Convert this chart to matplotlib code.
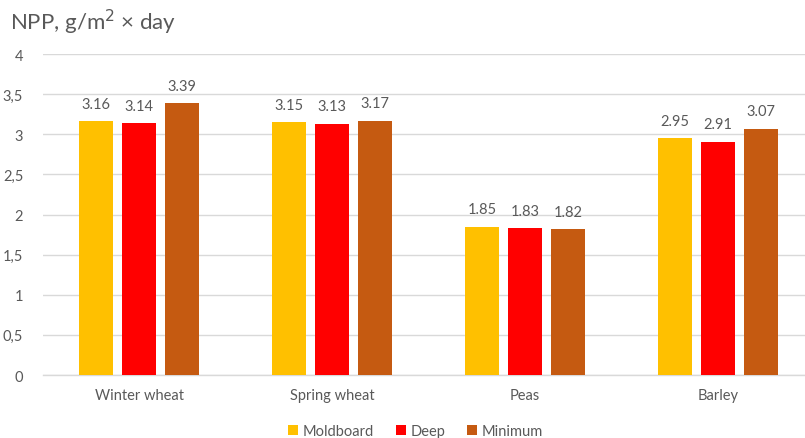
import numpy as np
import matplotlib.pyplot as plt

categories = ["Winter wheat", "Spring wheat", "Peas", "Barley"]
series_names = ["Moldboard", "Deep", "Minimum"]
moldboard = [3.16, 3.15, 1.85, 2.95]
deep = [3.14, 3.13, 1.83, 2.91]
minimum = [3.39, 3.17, 1.82, 3.07]
y_ticks = [0, 0.5, 1, 1.5, 2, 2.5, 3, 3.5, 4]
y_tick_labels = ["0", "0,5", "1", "1,5", "2", "2,5", "3", "3,5", "4"]

colors = ["#FFC000", "#FF0000", "#C55A11"]
text_color = "#595959"

plt.rcParams['font.family'] = ['Lato', 'DejaVu Sans']

fig = plt.figure(figsize=(8.05, 4.39), dpi=100)
# plot area runs a little past the right edge of the figure
ax = fig.add_axes([0.053, 0.1435, 0.959, 0.731])

x = np.arange(len(categories))
width = 0.176
step = 0.223
for i, (vals, name) in enumerate(zip([moldboard, deep, minimum], series_names)):
    pos = x + (i - 1) * step
    bars = ax.bar(pos, vals, width, color=colors[i], label=name, zorder=3)
    for b, v in zip(bars, vals):
        ax.text(b.get_x() + b.get_width() / 2, v + 0.13, f"{v:.2f}",
                ha='center', va='bottom', fontsize=10.5, color=text_color)

ax.set_xlim(-0.5, len(categories) - 0.5)
ax.set_ylim(0, 4)
ax.set_yticks(y_ticks)
ax.set_yticklabels(y_tick_labels)
ax.set_xticks(x)
ax.set_xticklabels(categories)
ax.tick_params(axis='both', length=0, labelsize=10.5, colors=text_color)
ax.tick_params(axis='x', pad=9)
ax.tick_params(axis='y', pad=14)
ax.grid(axis='y', color='#D9D9D9', linewidth=1, zorder=0)
for s in ['top', 'right', 'left']:
    ax.spines[s].set_visible(False)
ax.spines['bottom'].set_color('#D9D9D9')
ax.spines['bottom'].set_linewidth(1)

fig.text(0.012, 0.95, "NPP, g/m$^2$ × day", fontsize=16, color=text_color,
         ha='left', va='center')

fig.legend(loc='center', bbox_to_anchor=(0.516, 0.016), ncol=3, frameon=False,
           fontsize=10.5, handlelength=0.7, handleheight=0.7, handletextpad=0.3,
           columnspacing=1.5, labelcolor=text_color)

fig.savefig("out.png", dpi=100)
